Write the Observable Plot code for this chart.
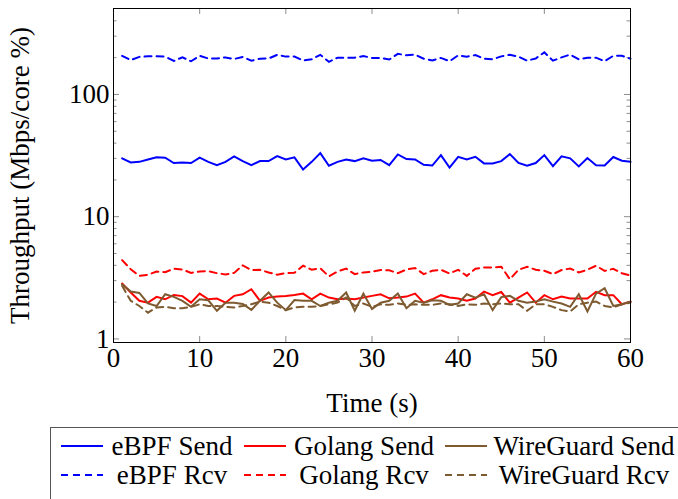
<!DOCTYPE html>
<html>
<head>
<meta charset="utf-8">
<script src="https://cdn.jsdelivr.net/npm/d3@7"></script>
<script src="https://cdn.jsdelivr.net/npm/@observablehq/plot@0.6"></script>
<style>
  html, body { margin: 0; padding: 0; background: #fff; overflow: hidden; }
  body { width: 678px; height: 499px; position: relative; font-family: "Liberation Serif", "Times New Roman", serif; }
  #legend { position: absolute; left: 50px; top: 427px; width: 660px; height: 90px;
            border: 1px solid #555; box-sizing: border-box; }
  .lg-sw { position: absolute; }
  .lg-tx { position: absolute; font-size: 27px; line-height: 28px; white-space: nowrap; transform: translate(-50%, -50%); }
</style>
</head>
<body>
<div id="chart"></div>
<div id="legend"></div>
<script>
const time = [1,2,3,4,5,6,7,8,9,10,11,12,13,14,15,16,17,18,19,20,21,22,23,24,25,26,27,28,29,30,
              31,32,33,34,35,36,37,38,39,40,41,42,43,44,45,46,47,48,49,50,51,52,53,54,55,56,57,58,59,60];

const ebpfSend = [30.0,27.8,28.1,29.4,30.6,30.4,27.5,27.7,27.5,30.4,28.1,26.4,28.1,31.2,28.5,
                  26.4,28.5,28.5,31.3,29.4,30.6,24.3,28.1,33.1,26.1,28.1,29.4,28.5,30.0,28.7,
                  29.1,26.4,32.3,29.6,29.4,26.6,26.2,31.9,25.2,30.9,29.4,30.9,27.3,27.3,28.5,
                  32.5,27.5,26.1,27.5,31.9,25.9,31.2,30.0,25.8,30.2,26.4,26.2,30.8,28.7,28.1];
const ebpfRcv = [207,191,203,205,205,204,188,201,187,207,197,197,201,195,203,
                 189,196,197,211,204,204,190,194,211,185,200,200,200,206,199,
                 199,193,215,209,212,196,190,199,187,209,204,210,196,194,205,
                 211,204,189,197,221,189,201,212,194,200,200,187,207,207,196];
const golangSend = [2.84,2.40,2.05,1.98,2.21,2.11,2.29,2.24,1.98,2.35,2.11,2.14,1.98,2.25,2.32,
                    2.55,2.05,2.18,2.22,2.25,2.29,2.35,2.11,2.35,2.18,2.11,2.14,2.11,2.18,2.25,
                    2.32,2.15,2.18,2.22,2.35,1.98,2.11,2.28,2.18,2.14,2.05,2.14,2.44,2.28,2.42,
                    1.98,2.18,2.40,1.98,2.28,2.11,2.22,2.14,2.14,2.14,2.43,2.28,2.28,1.92,2.02];
const golangRcv = [4.41,3.72,3.28,3.35,3.56,3.52,3.75,3.70,3.47,3.56,3.59,3.45,3.37,3.47,4.00,
                   3.66,3.68,3.50,3.35,3.46,3.48,3.97,3.69,3.78,3.25,3.56,3.76,3.39,3.50,3.55,
                   3.66,3.64,3.45,3.70,3.80,3.39,3.61,3.68,3.43,3.68,3.28,3.75,3.84,3.84,3.90,
                   3.08,3.68,3.89,3.68,3.61,3.39,3.66,3.77,3.50,3.68,3.97,3.60,3.75,3.45,3.30];
const wgSend = [2.80,2.44,2.38,1.95,1.86,2.32,2.21,2.05,1.83,2.11,2.07,1.70,1.98,1.98,1.93,
                1.73,2.05,2.40,1.98,1.72,2.08,2.05,2.05,1.86,1.98,2.05,2.40,1.70,2.35,1.76,
                1.98,2.05,2.35,1.78,2.05,1.98,2.07,2.05,1.90,1.95,2.32,2.18,2.32,1.72,2.20,
                2.25,2.05,1.98,2.02,2.11,2.02,1.95,1.83,2.32,1.68,2.35,2.60,1.86,1.92,2.02];
const wgRcv = [2.72,2.05,1.86,1.64,1.81,1.83,1.78,1.78,1.83,1.92,1.86,1.86,1.83,1.81,1.86,
               1.92,2.02,1.98,1.86,1.72,1.81,1.83,1.83,1.86,1.92,1.98,2.18,1.86,1.95,1.83,
               1.92,1.90,1.95,1.90,1.92,1.90,1.90,1.95,1.92,1.86,1.92,1.90,1.95,1.92,1.95,
               1.92,1.92,1.70,1.92,1.92,1.83,1.72,1.68,1.92,1.98,2.02,1.86,1.81,1.92,1.98];

const seriesNames = ["eBPF Send","Golang Send","WireGuard Send","eBPF Rcv","Golang Rcv","WireGuard Rcv"];
const seriesValues = [ebpfSend, golangSend, wgSend, ebpfRcv, golangRcv, wgRcv];
const seriesColors = ["#0000ff","#ff0000","#7d5a30","#0000ff","#ff0000","#7d5a30"];
const seriesDashed = [false,false,false,true,true,true];

const xTicks = [0,10,20,30,40,50,60];
const yMajor = [1,10,100];
const yMinor = [2,3,4,5,6,7,8,9,20,30,40,50,60,70,80,90,200,300,400];
const xLabel = "Time (s)";
const yLabel = "Throughput (Mbps/core %)";

const W = 678, H = 420, mL = 113, mR = 48, mT = 8, mB = 78;
const iW = W - mL - mR, iH = H - mT - mB;
const DASH = "7,5";
const FS = 27;

const lineMarks = seriesNames.map((name, i) => {
  const rows = time.map((t, j) => ({t, v: seriesValues[i][j]}));
  return Plot.line(rows, {x: "t", y: "v", stroke: seriesColors[i], strokeWidth: 2,
    strokeDasharray: seriesDashed[i] ? DASH : null, strokeLinejoin: "miter", strokeMiterlimit: 4});
});

const tickColor = "#8c8c8c";
const chart = Plot.plot({
  width: W, height: H,
  marginLeft: mL, marginRight: mR, marginTop: mT, marginBottom: mB,
  style: {fontFamily: '"Liberation Serif", "Times New Roman", serif', fontSize: FS + "px", color: "#000", background: "#fff", overflow: "visible"},
  x: {domain: [0, 60]},
  y: {type: "log", domain: [0.935, 505]},
  marks: [
    Plot.tickY(yMajor, {y: d => d, insetRight: iW - 6, stroke: tickColor}),
    Plot.tickY(yMajor, {y: d => d, insetLeft: iW - 6, stroke: tickColor}),
    Plot.tickY(yMinor, {y: d => d, insetRight: iW - 3.5, stroke: tickColor}),
    Plot.tickY(yMinor, {y: d => d, insetLeft: iW - 3.5, stroke: tickColor}),
    Plot.tickX(xTicks, {x: d => d, insetTop: iH - 6, stroke: tickColor}),
    Plot.tickX(xTicks, {x: d => d, insetBottom: iH - 6, stroke: tickColor}),
    ...lineMarks,
    Plot.frame({stroke: "#000", strokeWidth: 1}),
    Plot.axisY(yMajor, {tickSize: 0, tickPadding: 4, tickFormat: d => String(d), label: null, fontSize: FS}),
    Plot.axisX(xTicks, {tickSize: 0, tickPadding: 5, tickFormat: d => String(d), label: null, fontSize: FS}),
    Plot.text([yLabel], {frameAnchor: "left", text: d => d, rotate: -90, dx: -93, fontSize: FS,
      textAnchor: "middle", lineAnchor: "middle"}),
    Plot.text([xLabel], {frameAnchor: "bottom", text: d => d, dy: 61, fontSize: FS,
      textAnchor: "middle", lineAnchor: "middle"})
  ]
});
document.getElementById("chart").appendChild(chart);

// legend (positions relative to the legend box)
const legend = document.getElementById("legend");
const colSwatchX = [10, 193, 394];
const colTextX = [121, 313, 533];
const rowY = [18, 47];
for (let r = 0; r < 2; r++) {
  for (let c = 0; c < 3; c++) {
    const i = r * 3 + c;
    const sw = document.createElement("div");
    sw.className = "lg-sw";
    sw.style.left = colSwatchX[c] + "px";
    sw.style.top = (rowY[r] - 5) + "px";
    sw.innerHTML = `<svg width="44" height="10" style="display:block"><line x1="0" y1="5" x2="42" y2="5" stroke="${seriesColors[i]}" stroke-width="2" ${seriesDashed[i] ? `stroke-dasharray="${DASH}"` : ""}/></svg>`;
    const tx = document.createElement("div");
    tx.className = "lg-tx";
    tx.style.left = colTextX[c] + "px";
    tx.style.top = rowY[r] + "px";
    tx.textContent = seriesNames[i];
    legend.appendChild(sw);
    legend.appendChild(tx);
  }
}
</script>
</body>
</html>
